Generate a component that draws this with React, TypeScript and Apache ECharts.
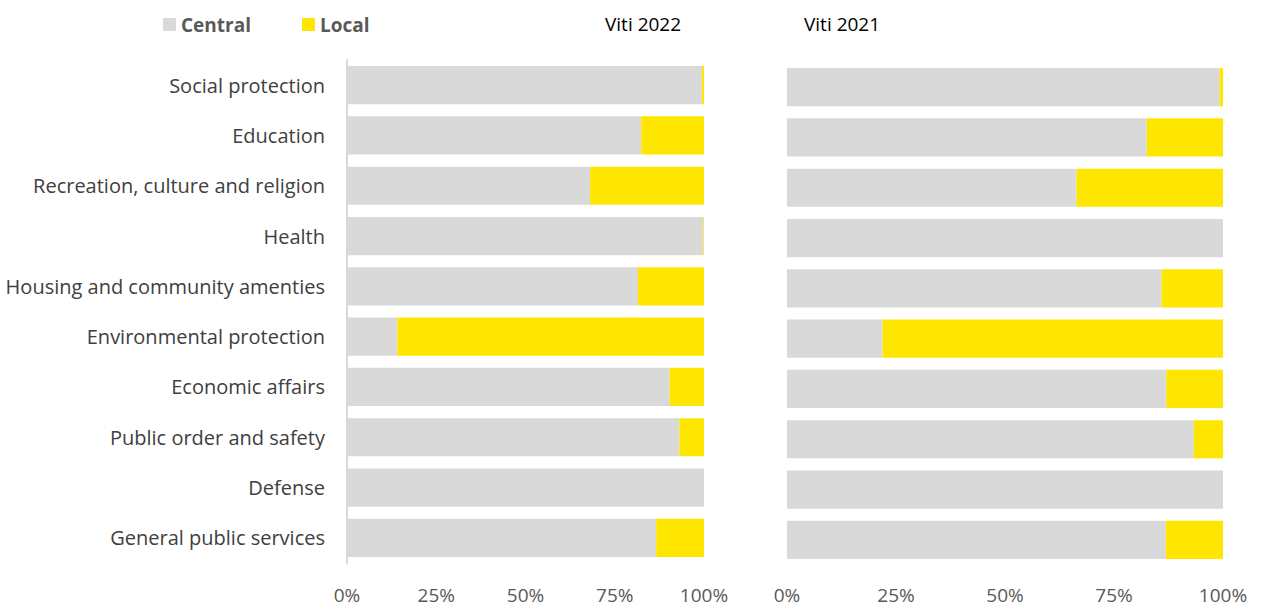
import React, { useEffect, useRef } from "react";
import * as echarts from "echarts";

const categories = [
  "Social protection",
  "Education",
  "Recreation, culture and religion",
  "Health",
  "Housing and community amenties",
  "Environmental protection",
  "Economic affairs",
  "Public order and safety",
  "Defense",
  "General public services",
];

const central2022 = [99.4, 82.4, 68.1, 99.8, 81.5, 14.1, 90.4, 93.1, 100, 86.6];
const local2022 = [0.6, 17.6, 31.9, 0.2, 18.5, 85.9, 9.6, 6.9, 0, 13.4];
const central2021 = [99.2, 82.5, 66.4, 100, 85.9, 21.9, 87.0, 93.3, 100, 86.9];
const local2021 = [0.8, 17.5, 33.6, 0, 14.1, 78.1, 13.0, 6.7, 0, 13.1];

const xTicks = [0, 25, 50, 75, 100];
const titles = ["Viti 2022", "Viti 2021"];

const GRAY = "#d9d9d9";
const YELLOW = "#ffe600";
const FONT = "Open Sans";

export default function App() {
  const ref = useRef<HTMLDivElement>(null);
  useEffect(() => {
    if (!ref.current) return;
    const chart = echarts.init(ref.current, undefined, { renderer: "svg" });
    const xAxisCommon = (gridIndex: number, margin: number) => ({
      type: "value" as const,
      gridIndex,
      min: 0,
      max: 100,
      interval: 25,
      splitLine: { show: false },
      axisLine: { show: false },
      axisTick: { show: false },
      axisLabel: {
        margin,
        color: "#595959",
        fontSize: 19,
        fontFamily: FONT,
        formatter: (v: number) => (xTicks.includes(v) ? v + "%" : ""),
      },
    });
    const barCommon = { type: "bar" as const, barWidth: "76%", barGap: "0%" };
    chart.setOption({
      animation: false,
      textStyle: { fontFamily: FONT },
      title: [
        {
          text: titles[0],
          left: 600,
          top: 9,
          textStyle: { fontSize: 19, fontWeight: "normal", color: "#000", fontFamily: FONT },
        },
        {
          text: titles[1],
          left: 799,
          top: 9,
          textStyle: { fontSize: 19, fontWeight: "normal", color: "#000", fontFamily: FONT },
        },
      ],
      legend: {
        data: ["Central", "Local"],
        left: 158,
        top: 10,
        icon: "rect",
        itemWidth: 13,
        itemHeight: 13,
        itemGap: 51,
        textStyle: { fontSize: 19, fontWeight: "bold", color: "#595959", fontFamily: FONT },
        selectedMode: false,
      },
      grid: [
        { left: 347, width: 357, top: 60, height: 503 },
        { left: 787, width: 436, top: 62, height: 503 },
      ],
      xAxis: [xAxisCommon(0, 22), xAxisCommon(1, 20)],
      yAxis: [
        {
          type: "category",
          gridIndex: 0,
          data: categories,
          inverse: true,
          axisTick: { show: false },
          axisLine: { show: true, lineStyle: { color: GRAY, width: 2 } },
          axisLabel: { margin: 22, color: "#404040", fontSize: 20, fontFamily: FONT },
        },
        {
          type: "category",
          gridIndex: 1,
          data: categories,
          inverse: true,
          axisTick: { show: false },
          axisLine: { show: false },
          axisLabel: { show: false },
        },
      ],
      series: [
        { ...barCommon, name: "Central", stack: "a", xAxisIndex: 0, yAxisIndex: 0, data: central2022, itemStyle: { color: GRAY } },
        { ...barCommon, name: "Local", stack: "a", xAxisIndex: 0, yAxisIndex: 0, data: local2022, itemStyle: { color: YELLOW } },
        { ...barCommon, name: "Central", stack: "b", xAxisIndex: 1, yAxisIndex: 1, data: central2021, itemStyle: { color: GRAY } },
        { ...barCommon, name: "Local", stack: "b", xAxisIndex: 1, yAxisIndex: 1, data: local2021, itemStyle: { color: YELLOW } },
      ],
    });
    return () => chart.dispose();
  }, []);
  return (
    <div
      ref={ref}
      style={{ position: "absolute", left: 0, top: 0, width: 1262, height: 608 }}
    />
  );
}
